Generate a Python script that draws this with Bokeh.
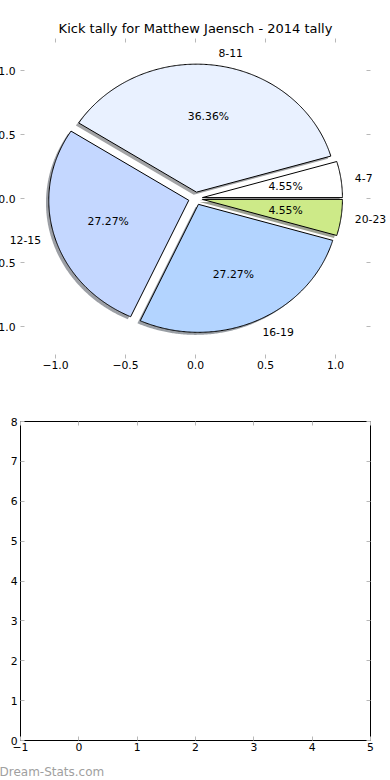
import numpy as np
from bokeh.plotting import figure
from bokeh.layouts import column
from bokeh.models import ColumnDataSource, FixedTicker, CustomJSTickFormatter, LinearAxis
from bokeh.core.properties import value
from bokeh.embed import file_html
from bokeh.resources import INLINE

# ---------------- data ----------------
title_text = "Kick tally for Matthew Jaensch - 2014 tally"
categories = ["4-7", "8-11", "12-15", "16-19", "20-23"]
kick_counts = [1, 8, 6, 6, 1]
slice_colors = ["#ffffff", "#e9f1ff", "#c4d7ff", "#b3d4ff", "#cdea88"]
pie_ticks = [-1.0, -0.5, 0.0, 0.5, 1.0]
empty_x_ticks = [-1, 0, 1, 2, 3, 4, 5]
empty_y_ticks = [0, 1, 2, 3, 4, 5, 6, 7, 8]
watermark_text = ["Dream-Stats.com"]

# ---------------- style ----------------
FONT = "DejaVu Sans"
TICK_COLOR = "#b8b8b8"
LABEL_SIZE = "10.8px"
EXPLODE = 0.05
SHADOW_OFF = -0.02
LABEL_DIST = 1.1
PCT_DIST = 0.6

MINUS_FMT1 = "return (tick < 0 ? '\u2212' : '') + Math.abs(tick).toFixed(1);"
MINUS_FMT0 = "return (tick < 0 ? '\u2212' : '') + Math.abs(tick).toFixed(0);"
EMPTY_FMT = "return '';"


def style_axis(ax, ticks, code, standoff):
    ax.ticker = FixedTicker(ticks=ticks)
    ax.formatter = CustomJSTickFormatter(code=code)
    ax.axis_line_color = None
    ax.major_tick_in = 4
    ax.major_tick_out = 0
    ax.major_tick_line_color = TICK_COLOR
    ax.major_tick_line_width = 1
    ax.minor_tick_line_color = None
    ax.major_label_text_font = FONT
    ax.major_label_text_font_size = LABEL_SIZE
    ax.major_label_text_color = "black"
    ax.major_label_standoff = standoff


def make_fig(xr, yr, fw, fh, top, bottom, right, title=None):
    p = figure(x_range=xr, y_range=yr, frame_width=fw, frame_height=fh,
               min_border_left=40, min_border_right=right,
               min_border_top=top, min_border_bottom=bottom,
               output_backend="svg", toolbar_location=None, title=title)
    p.xgrid.grid_line_color = None
    p.ygrid.grid_line_color = None
    p.background_fill_color = "white"
    p.border_fill_color = "white"
    return p


# ---------------- pie figure ----------------
p1 = make_fig((-1.25, 1.25), (-1.25, 1.25), 350, 320, 38, 32, 18, title_text)
p1.outline_line_color = None
p1.title.text_font = FONT
p1.title.text_font_size = "13px"
p1.title.text_font_style = "normal"
p1.title.align = "center"
p1.title.text_color = "black"
p1.title.standoff = 6

style_axis(p1.xaxis[0], pie_ticks, MINUS_FMT1, 2)
style_axis(p1.yaxis[0], pie_ticks, MINUS_FMT1, 5)
for loc in ("above", "right"):
    ax = LinearAxis()
    style_axis(ax, pie_ticks, EMPTY_FMT, 0)
    p1.add_layout(ax, loc)

total = float(sum(kick_counts))
theta = np.concatenate([[0.0], np.cumsum(kick_counts) / total]) * 2 * np.pi

wx, wy, sx, sy, shadow_cols = [], [], [], [], []
pct_x, pct_y, pct_txt = [], [], []
lab_x, lab_y, lab_align = [], [], []
for i, c in enumerate(kick_counts):
    t1, t2 = theta[i], theta[i + 1]
    m = 0.5 * (t1 + t2)
    cx, cy = EXPLODE * np.cos(m), EXPLODE * np.sin(m)
    arc = np.linspace(t1, t2, max(int(np.degrees(t2 - t1)) * 2, 12))
    px = np.concatenate([[cx], cx + np.cos(arc)])
    py = np.concatenate([[cy], cy + np.sin(arc)])
    wx.append(list(px)); wy.append(list(py))
    sx.append(list(px + SHADOW_OFF)); sy.append(list(py + SHADOW_OFF))
    h = slice_colors[i].lstrip("#")
    r, g, b = (int(h[k:k + 2], 16) for k in (0, 2, 4))
    shadow_cols.append("#%02x%02x%02x" % (int(r * 0.3), int(g * 0.3), int(b * 0.3)))
    pct_x.append(cx + PCT_DIST * np.cos(m)); pct_y.append(cy + PCT_DIST * np.sin(m))
    pct_txt.append("%.2f%%" % (100.0 * c / total))
    xt = cx + LABEL_DIST * np.cos(m)
    lab_x.append(xt); lab_y.append(cy + LABEL_DIST * np.sin(m))
    lab_align.append("left" if xt > 0 else "right")

p1.patches(xs="xs", ys="ys", fill_color="c", fill_alpha=0.5, line_color=None,
           source=ColumnDataSource(dict(xs=sx, ys=sy, c=shadow_cols)))
p1.patches(xs="xs", ys="ys", fill_color="c", line_color="black", line_width=1,
           source=ColumnDataSource(dict(xs=wx, ys=wy, c=slice_colors)))
p1.text(x="x", y="y", text="t", text_align="center", text_baseline="middle",
        text_font=value(FONT), text_font_size=LABEL_SIZE, text_color="black",
        source=ColumnDataSource(dict(x=pct_x, y=pct_y, t=pct_txt)))
p1.text(x="x", y="y", text="t", text_align="a", text_baseline="middle",
        text_font=value(FONT), text_font_size=LABEL_SIZE, text_color="black",
        level="overlay",
        source=ColumnDataSource(dict(x=lab_x, y=lab_y, t=categories, a=lab_align)))

# ---------------- empty figure ----------------
p2 = make_fig((-1, 5), (0, 8), 350, 319, 31, 38, 12)
p2.outline_line_color = "black"
p2.outline_line_width = 1
style_axis(p2.xaxis[0], empty_x_ticks, MINUS_FMT0, 2)
style_axis(p2.yaxis[0], empty_y_ticks, MINUS_FMT0, 3)
ax = LinearAxis(); style_axis(ax, empty_x_ticks, EMPTY_FMT, 0); p2.add_layout(ax, "above")
ax = LinearAxis(); style_axis(ax, empty_y_ticks, EMPTY_FMT, 0); p2.add_layout(ax, "right")

p2.text(x=[-1.36], y=[-0.78], text=watermark_text, text_align="left", text_baseline="middle",
        text_font=value(FONT), text_font_size="12px", text_color="#a0a0a0", level="overlay")

layout = column(p1, p2, spacing=0, styles={"margin-left": "-20px", "margin-bottom": "-16px"})

with open("out.html", "w") as f:
    f.write(file_html(layout, INLINE))
